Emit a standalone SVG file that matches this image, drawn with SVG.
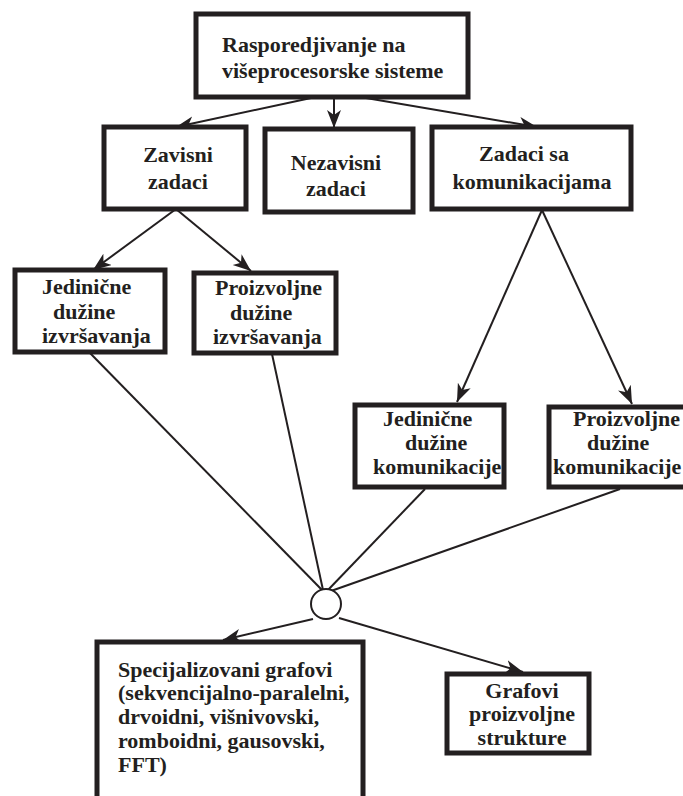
<svg xmlns="http://www.w3.org/2000/svg" width="683" height="796" viewBox="0 0 683 796">
<style>
.box{fill:#fff;stroke:#231f20;stroke-width:5}
.t{font-family:"Liberation Serif","Times New Roman",serif;font-weight:bold;font-size:22px;fill:#231f20}
.m{text-anchor:middle}
.c{fill:none;stroke:#231f20;stroke-width:2}
</style>
<defs>
<marker id="ah" markerUnits="userSpaceOnUse" markerWidth="20" markerHeight="16" refX="18" refY="7" orient="auto">
<path d="M0,0 L18,7 L0,14 L5,7 z" fill="#231f20"/>
</marker>
</defs>
<rect width="683" height="796" fill="#fff"/>
<g id="connectors">
<line class="c" x1="311" y1="98" x2="176" y2="127" marker-end="url(#ah)"/>
<line class="c" x1="334" y1="98" x2="334" y2="128" marker-end="url(#ah)"/>
<line class="c" x1="366" y1="98" x2="537" y2="127" marker-end="url(#ah)"/>
<line class="c" x1="176" y1="209" x2="93" y2="270" marker-end="url(#ah)"/>
<line class="c" x1="176" y1="209" x2="251" y2="271" marker-end="url(#ah)"/>
<line class="c" x1="542" y1="210" x2="457" y2="402" marker-end="url(#ah)"/>
<line class="c" x1="542" y1="210" x2="632" y2="404" marker-end="url(#ah)"/>
<line class="c" x1="90" y1="353" x2="322" y2="590"/>
<line class="c" x1="272" y1="354" x2="323" y2="590"/>
<line class="c" x1="425" y1="489" x2="328" y2="590"/>
<line class="c" x1="620" y1="489" x2="331" y2="591"/>
<line class="c" x1="313" y1="619" x2="223" y2="640" marker-end="url(#ah)"/>
<line class="c" x1="339" y1="618" x2="523" y2="672" marker-end="url(#ah)"/>
</g>
<g id="root">
<rect class="box" x="196" y="14" width="272" height="83"/>
<text class="t" x="222" y="52">Rasporedjivanje na</text>
<text class="t" x="222" y="78">višeprocesorske sisteme</text>
</g>
<g id="zavisni">
<rect class="box" x="104" y="127" width="142" height="82"/>
<text class="t m" x="178" y="162">Zavisni</text>
<text class="t m" x="178" y="189">zadaci</text>
</g>
<g id="nezavisni">
<rect class="box" x="265" y="129" width="148" height="83"/>
<text class="t m" x="336" y="170">Nezavisni</text>
<text class="t m" x="336" y="196">zadaci</text>
</g>
<g id="komunikacije">
<rect class="box" x="432" y="127" width="199" height="82"/>
<text class="t m" x="524" y="161">Zadaci sa</text>
<text class="t m" x="532" y="189">komunikacijama</text>
</g>
<g id="jed-izv">
<rect class="box" x="15" y="270" width="150" height="82"/>
<text class="t" x="42" y="294">Jedinične</text>
<text class="t" x="53" y="319">dužine</text>
<text class="t" x="42" y="343">izvršavanja</text>
</g>
<g id="proiz-izv">
<rect class="box" x="194" y="273" width="142" height="80"/>
<text class="t" x="215" y="295">Proizvoljne</text>
<text class="t" x="230" y="320">dužine</text>
<text class="t" x="213" y="344">izvršavanja</text>
</g>
<g id="jed-kom">
<rect class="box" x="355" y="405" width="149" height="82"/>
<text class="t" x="383" y="426">Jedinične</text>
<text class="t" x="405" y="450">dužine</text>
<text class="t" x="373" y="474">komunikacije</text>
</g>
<g id="proiz-kom">
<rect class="box" x="549" y="407" width="150" height="80"/>
<text class="t" x="573" y="426">Proizvoljne</text>
<text class="t" x="587" y="450">dužine</text>
<text class="t" x="553" y="474">komunikacije</text>
</g>
<g id="junction">
<circle cx="326" cy="604" r="15" fill="#fff" stroke="#231f20" stroke-width="2"/>
</g>
<g id="specijalizovani">
<rect class="box" x="97" y="642" width="266" height="170"/>
<text class="t" x="118" y="677">Specijalizovani grafovi</text>
<text class="t" x="118" y="700">(sekvencijalno-paralelni,</text>
<text class="t" x="118" y="724">drvoidni, višnivovski,</text>
<text class="t" x="118" y="748">romboidni, gausovski,</text>
<text class="t" x="118" y="772">FFT)</text>
</g>
<g id="proizvoljni">
<rect class="box" x="447" y="674" width="142" height="79"/>
<text class="t m" x="522" y="698">Grafovi</text>
<text class="t m" x="522" y="721">proizvoljne</text>
<text class="t m" x="522" y="745">strukture</text>
</g>
</svg>
